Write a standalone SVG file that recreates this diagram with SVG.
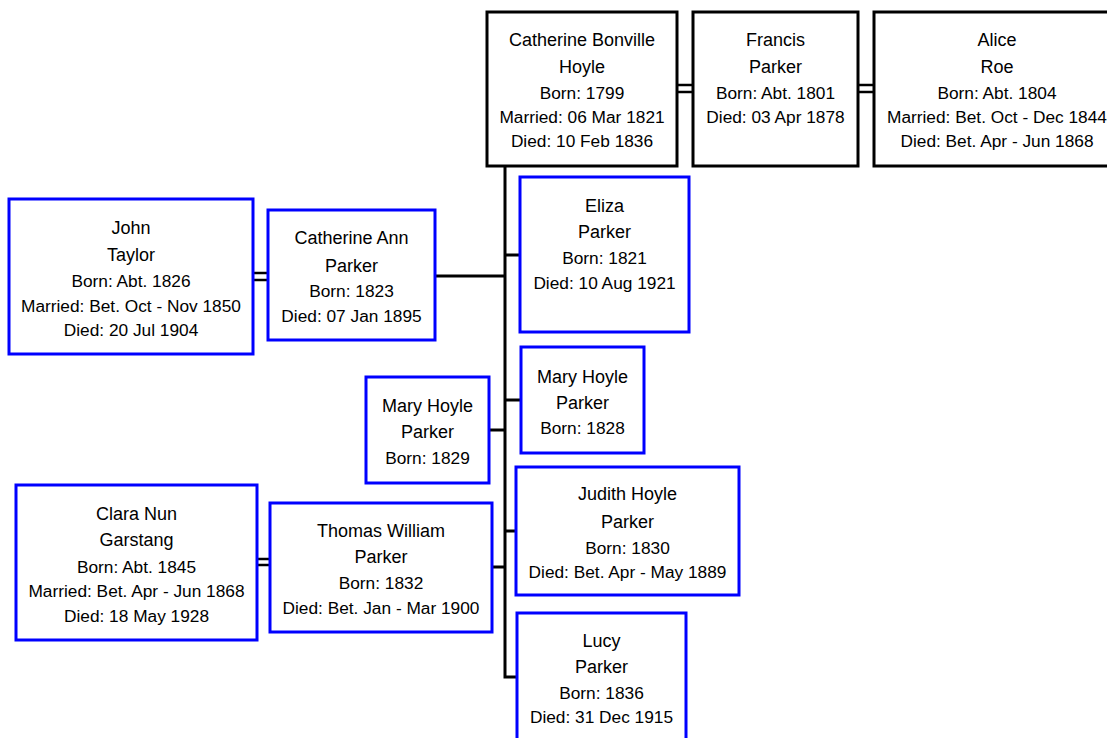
<svg xmlns="http://www.w3.org/2000/svg" width="1107" height="738" viewBox="0 0 1107 738">
<style>
.bk{fill:#fff;stroke:#000;stroke-width:3}
.bl{fill:#fff;stroke:#0000ff;stroke-width:3}
.ln{stroke:#000;stroke-width:3;fill:none}
.dl{stroke:#000;stroke-width:2.5;fill:none}
text{font-family:"Liberation Sans",Arial,sans-serif;fill:#000;text-anchor:middle}
.nm{font-size:18px}
.dt{font-size:17.3px}
</style>
<rect width="1107" height="738" fill="#fff"/>
<g id="connectors">
<polyline class="ln" points="505,166 505,677 517,677"/>
<line class="ln" x1="505" y1="255" x2="520" y2="255"/>
<line class="ln" x1="435" y1="276" x2="505" y2="276"/>
<line class="ln" x1="505" y1="400" x2="521" y2="400"/>
<line class="ln" x1="489" y1="430" x2="505" y2="430"/>
<line class="ln" x1="505" y1="531" x2="516" y2="531"/>
<line class="ln" x1="492" y1="567" x2="505" y2="567"/>
<line class="dl" x1="677" y1="85" x2="693" y2="85"/>
<line class="dl" x1="677" y1="92" x2="693" y2="92"/>
<line class="dl" x1="858" y1="85" x2="874" y2="85"/>
<line class="dl" x1="858" y1="92" x2="874" y2="92"/>
<line class="dl" x1="253" y1="273" x2="268" y2="273"/>
<line class="dl" x1="253" y1="280" x2="268" y2="280"/>
<line class="dl" x1="257" y1="559" x2="270" y2="559"/>
<line class="dl" x1="257" y1="565" x2="270" y2="565"/>
</g>
<g id="catherine-bonville-hoyle">
<rect class="bk" x="487" y="12" width="190" height="154"/>
<text class="nm" x="582" y="46">Catherine Bonville</text>
<text class="nm" x="582" y="73">Hoyle</text>
<text class="dt" x="582" y="99">Born: 1799</text>
<text class="dt" x="582" y="123">Married: 06 Mar 1821</text>
<text class="dt" x="582" y="147">Died: 10 Feb 1836</text>
</g>
<g id="francis-parker">
<rect class="bk" x="693" y="12" width="165" height="154"/>
<text class="nm" x="775.5" y="46">Francis</text>
<text class="nm" x="775.5" y="73">Parker</text>
<text class="dt" x="775.5" y="99">Born: Abt. 1801</text>
<text class="dt" x="775.5" y="123">Died: 03 Apr 1878</text>
</g>
<g id="alice-roe">
<rect class="bk" x="874" y="12" width="246" height="154"/>
<text class="nm" x="997" y="46">Alice</text>
<text class="nm" x="997" y="73">Roe</text>
<text class="dt" x="997" y="99">Born: Abt. 1804</text>
<text class="dt" x="997" y="123">Married: Bet. Oct - Dec 1844</text>
<text class="dt" x="997" y="147">Died: Bet. Apr - Jun 1868</text>
</g>
<g id="eliza-parker">
<rect class="bl" x="520" y="177" width="169" height="155"/>
<text class="nm" x="604.5" y="212">Eliza</text>
<text class="nm" x="604.5" y="238">Parker</text>
<text class="dt" x="604.5" y="264">Born: 1821</text>
<text class="dt" x="604.5" y="289">Died: 10 Aug 1921</text>
</g>
<g id="john-taylor">
<rect class="bl" x="9" y="199" width="244" height="155"/>
<text class="nm" x="131" y="234">John</text>
<text class="nm" x="131" y="261">Taylor</text>
<text class="dt" x="131" y="287">Born: Abt. 1826</text>
<text class="dt" x="131" y="311.5">Married: Bet. Oct - Nov 1850</text>
<text class="dt" x="131" y="336">Died: 20 Jul 1904</text>
</g>
<g id="catherine-ann-parker">
<rect class="bl" x="268" y="210" width="167" height="130"/>
<text class="nm" x="351.5" y="244">Catherine Ann</text>
<text class="nm" x="351.5" y="272">Parker</text>
<text class="dt" x="351.5" y="297">Born: 1823</text>
<text class="dt" x="351.5" y="322">Died: 07 Jan 1895</text>
</g>
<g id="mary-hoyle-parker-1828">
<rect class="bl" x="521" y="347" width="123" height="106"/>
<text class="nm" x="582.5" y="383">Mary Hoyle</text>
<text class="nm" x="582.5" y="409">Parker</text>
<text class="dt" x="582.5" y="434">Born: 1828</text>
</g>
<g id="mary-hoyle-parker-1829">
<rect class="bl" x="366" y="377" width="123" height="106"/>
<text class="nm" x="427.5" y="412">Mary Hoyle</text>
<text class="nm" x="427.5" y="438">Parker</text>
<text class="dt" x="427.5" y="464">Born: 1829</text>
</g>
<g id="judith-hoyle-parker">
<rect class="bl" x="516" y="467" width="223" height="128"/>
<text class="nm" x="627.5" y="500">Judith Hoyle</text>
<text class="nm" x="627.5" y="528">Parker</text>
<text class="dt" x="627.5" y="554">Born: 1830</text>
<text class="dt" x="627.5" y="578">Died: Bet. Apr - May 1889</text>
</g>
<g id="clara-nun-garstang">
<rect class="bl" x="16" y="485" width="241" height="155"/>
<text class="nm" x="136.5" y="520">Clara Nun</text>
<text class="nm" x="136.5" y="546">Garstang</text>
<text class="dt" x="136.5" y="573">Born: Abt. 1845</text>
<text class="dt" x="136.5" y="597">Married: Bet. Apr - Jun 1868</text>
<text class="dt" x="136.5" y="622">Died: 18 May 1928</text>
</g>
<g id="thomas-william-parker">
<rect class="bl" x="270" y="503" width="222" height="129"/>
<text class="nm" x="381" y="537">Thomas William</text>
<text class="nm" x="381" y="563">Parker</text>
<text class="dt" x="381" y="589">Born: 1832</text>
<text class="dt" x="381" y="614">Died: Bet. Jan - Mar 1900</text>
</g>
<g id="lucy-parker">
<rect class="bl" x="517" y="613" width="169" height="140"/>
<text class="nm" x="601.5" y="647">Lucy</text>
<text class="nm" x="601.5" y="673">Parker</text>
<text class="dt" x="601.5" y="699">Born: 1836</text>
<text class="dt" x="601.5" y="723">Died: 31 Dec 1915</text>
</g>
</svg>
